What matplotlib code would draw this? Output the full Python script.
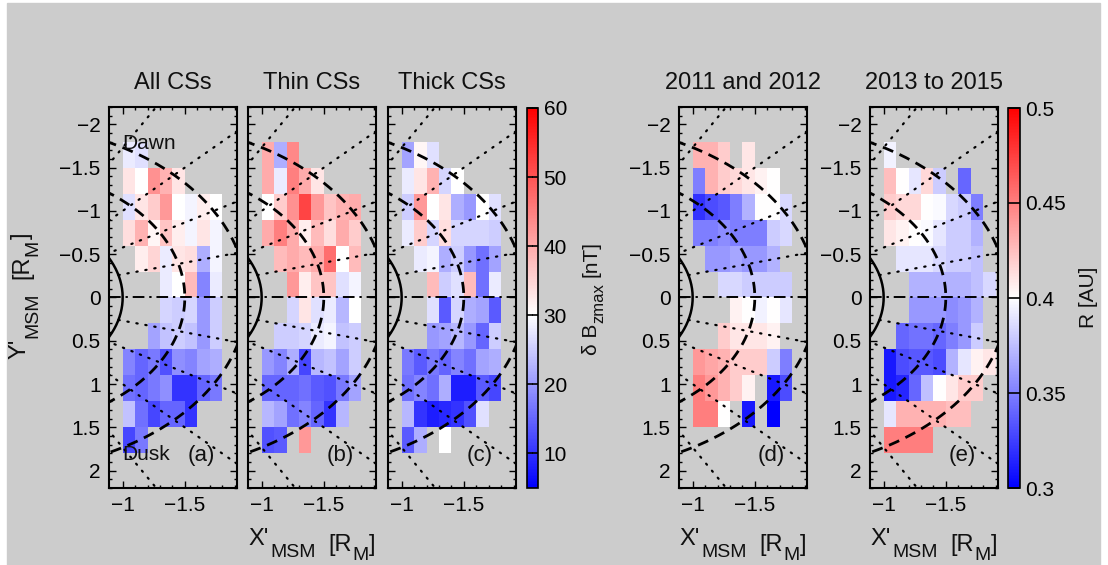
import numpy as np
import matplotlib.pyplot as plt
from matplotlib.colors import LinearSegmentedColormap, Normalize
from matplotlib.patches import Rectangle

plt.rcParams['font.family'] = ['Liberation Sans', 'DejaVu Sans']
plt.rcParams['text.color'] = '#111111'

n = np.nan

# bin edges of the maps (X' columns, Y' rows)
x_edges = [-1.0, -1.1, -1.2, -1.3, -1.4, -1.5, -1.6, -1.7, -1.8, -1.9]
y_edges = [-1.8, -1.5, -1.2, -0.9, -0.6, -0.3, 0.0, 0.3, 0.6, 0.9, 1.2, 1.5, 1.8]

# delta Bz max [nT]
dbz_all = [
    [28, 27, n, n, n, n, n, n, n],
    [33, 30, 43, 39, 33, n, n, n, n],
    [27, 33, 36, 42, 30, 29, 32, 30, n],
    [34, 39, 31, 37, 32, 29, 33, 29, n],
    [n, 32, 35, 28, 33, 34, 22, 29, n],
    [n, n, n, 28, 30, 38, 18, 28, n],
    [n, n, n, 26, 25, 26, 20, 25, n],
    [n, n, 21, 24, 25, 24, 20, 25, n],
    [18, 15, 17, 13, 19, 18, 21, 22, n],
    [16, 15, 17, 19, 10, 10, 15, 17, n],
    [24, 16, 12, 15, 15, 10, n, n, n],
    [12, 17, n, n, n, n, n, n, n],
]
dbz_thin = [
    [40, 22, 44, n, n, n, n, n, n],
    [40, 28, 45, 40, 33, n, n, n, n],
    [30, 36, 43, 52, 42, 37, 39, 40, n],
    [40, 45, 40, 32, 38, 34, 40, 36, n],
    [n, 38, 40, 38, 40, 47, 30, 38, n],
    [n, n, 42, 32, 37, 37, 27, 29, n],
    [n, n, 26, 33, 27, 28, 23, 30, n],
    [n, 25, 25, 26, 28, 29, 24, 25, n],
    [20, 18, 22, 12, 23, 24, 21, 25, n],
    [15, 15, 15, 16, 14, 13, 17, 21, n],
    [23, 21, 16, 18, 15, 10, 23, n, n],
    [13, 14, n, 42, n, n, n, n, n],
]
dbz_thick = [
    [21, 31, 27, n, n, n, n, n, n],
    [28, 33, 39, 26, 30, n, n, n, n],
    [25, 42, 30, 33, 22, 20, 30, 27, n],
    [28, 36, 26, 34, 26, 26, 26, 25, n],
    [n, 28, 29, 22, 25, 20, 16, 21, n],
    [n, n, 38, 25, 27, 38, 16, 28, n],
    [n, n, 27, 14, 26, 22, 21, 14, n],
    [n, n, 20, 21, 23, 20, 15, 25, n],
    [17, 14, 17, 15, 18, 16, 21, 22, n],
    [16, 18, 16, 22, 8, 8, 14, 12, n],
    [23, 10, 8, 9, 10, 13, 27, n, n],
    [14, 22, n, 30, n, n, n, n, n],
]

# heliocentric distance R [AU]
r_2011_2012 = [
    [0.43, 0.43, 0.42, n, 0.41, n, n, n, n],
    [0.35, 0.43, 0.42, 0.415, 0.41, 0.405, 0.40, n, n],
    [0.32, 0.33, 0.335, 0.35, 0.37, 0.40, 0.40, 0.385, n],
    [0.35, 0.35, 0.355, 0.35, 0.35, 0.35, 0.38, 0.385, n],
    [n, 0.36, 0.36, 0.365, 0.36, 0.36, 0.37, n, n],
    [n, n, 0.385, 0.385, 0.38, 0.38, 0.38, 0.38, n],
    [n, n, n, 0.405, 0.40, 0.395, 0.40, 0.39, n],
    [n, n, 0.42, 0.41, 0.41, 0.41, 0.405, n, n],
    [0.44, 0.435, 0.43, 0.42, 0.42, 0.42, 0.38, 0.35, n],
    [0.45, 0.44, 0.43, 0.42, 0.405, n, 0.31, 0.33, n],
    [0.45, 0.45, 0.40, n, 0.31, n, 0.30, n, n],
    [n, n, n, n, n, n, n, n, n],
]
r_2013_2015 = [
    [0.395, n, n, n, n, n, n, n, n],
    [0.425, 0.40, 0.39, 0.415, 0.38, n, 0.34, n, n],
    [0.42, 0.415, 0.415, 0.40, 0.398, 0.385, 0.38, 0.35, n],
    [0.41, 0.405, 0.40, 0.398, 0.39, 0.38, 0.38, 0.37, n],
    [n, 0.39, 0.39, 0.39, 0.385, 0.38, 0.38, 0.375, n],
    [n, n, 0.37, 0.37, 0.37, 0.37, 0.37, 0.375, 0.385],
    [n, n, 0.36, 0.36, 0.36, 0.355, 0.36, 0.37, n],
    [n, 0.34, 0.345, 0.345, 0.34, 0.35, 0.36, 0.38, n],
    [0.31, 0.33, 0.335, 0.335, 0.33, 0.37, 0.39, 0.405, 0.41],
    [0.31, 0.315, 0.34, 0.375, 0.40, 0.41, 0.42, 0.42, n],
    [0.39, 0.43, 0.43, 0.43, 0.43, 0.425, 0.425, n, n],
    [0.45, 0.45, 0.45, 0.45, n, n, n, n, n],
]

titles = ['All CSs', 'Thin CSs', 'Thick CSs', '2011 and 2012', '2013 to 2015']
panel_tags = ['(a)', '(b)', '(c)', '(d)', '(e)']
xtick_vals = [-1, -1.5]
xtick_labels = ['\u22121', '\u22121.5']
ytick_vals = [-2, -1.5, -1, -0.5, 0, 0.5, 1, 1.5, 2]
ytick_labels = ['\u22122', '\u22121.5', '\u22121', '\u22120.5', '0', '0.5', '1', '1.5', '2']
dbz_ticks = [10, 20, 30, 40, 50, 60]
r_ticks = [0.3, 0.35, 0.4, 0.45, 0.5]
r_tick_labels = ['0.3', '0.35', '0.4', '0.45', '0.5']

# colour maps: blue-white-red, white at 30 nT / 0.4 AU
cmap_dbz = LinearSegmentedColormap.from_list('dbz', [(0, 'blue'), (25 / 55, 'white'), (1, 'red')])
norm_dbz = Normalize(5, 60)
cmap_r = plt.get_cmap('bwr')
norm_r = Normalize(0.3, 0.5)

W, H = 1108, 565
fig = plt.figure(figsize=(W / 100, H / 100), dpi=100)
fig.patches.append(Rectangle((7 / W, 0), (1100 - 7) / W, (H - 3) / H,
                             transform=fig.transFigure, color='#cccccc', zorder=-10))


def px_axes(left, top, width, height):
    return fig.add_axes([left / W, 1 - (top + height) / H, width / W, height / H])


def chain_label(a, b, pieces, rotation=0):
    # pieces: (text, fontsize, baseline shift px, gap before px)
    # horizontal: a = centre x, b = baseline y ; vertical: a = baseline x, b = centre y
    rend = fig.canvas.get_renderer()
    items = []
    total = 0
    for s, fs, dy, gap in pieces:
        t = fig.text(0, 0, s, fontsize=fs, rotation=rotation, rotation_mode='anchor',
                     ha='left', va='baseline')
        bb = t.get_window_extent(rend)
        ln = bb.width if rotation == 0 else bb.height
        items.append((t, dy, gap, ln))
        total += gap + ln
    pos = -total / 2
    for t, dy, gap, ln in items:
        pos += gap
        if rotation == 0:
            t.set_position(((a + pos) / W, 1 - (b + dy) / H))
        else:
            t.set_position(((a + dy) / W, 1 - (b - pos) / H))
        pos += ln


panel_left = [109, 248, 388, 679, 870]
panel_data = [dbz_all, dbz_thin, dbz_thick, r_2011_2012, r_2013_2015]

t = np.linspace(-np.pi / 2, np.pi / 2, 200)
meshes = []
for i, left in enumerate(panel_left):
    ax = px_axes(left, 107, 128, 381)
    ax.set_facecolor('none')
    if i < 3:
        cmap, norm = cmap_dbz, norm_dbz
    else:
        cmap, norm = cmap_r, norm_r
    m = ax.pcolormesh(x_edges, y_edges, np.ma.masked_invalid(np.array(panel_data[i], dtype=float)),
                      cmap=cmap, norm=norm, edgecolors='none', zorder=1)
    meshes.append(m)

    # planet, boundaries and local-time lines
    ax.plot(-np.cos(t), np.sin(t), color='k', lw=1.8, zorder=3)
    for rad in [1.5, 2.0]:
        ax.plot(-rad * np.cos(t), rad * np.sin(t), color='k', lw=2.0,
                dashes=(4, 2.5), zorder=3)
    for ang in [15, 30, 45, 60]:
        for sgn in [-1, 1]:
            a = np.deg2rad(ang) * sgn
            ax.plot([-np.cos(a), -3 * np.cos(a)], [np.sin(a), 3 * np.sin(a)],
                    color='k', lw=1.6, linestyle=(0, (0.6, 3.5)),
                    dash_capstyle='round', zorder=3)
    ax.axhline(0, color='k', lw=1.4, linestyle=(0, (6, 2.5, 1.2, 2.5)), zorder=3)

    ax.set_xlim(-0.89, -1.92)
    ax.set_ylim(2.2, -2.2)
    ax.set_xticks(xtick_vals)
    ax.set_xticklabels(xtick_labels)
    ax.set_xticks(np.arange(-1.0, -1.95, -0.1), minor=True)
    ax.set_yticks(ytick_vals)
    ax.set_yticklabels(ytick_labels)
    ax.set_yticks(np.arange(-2.2, 2.25, 0.1), minor=True)
    ax.tick_params(which='both', direction='in', top=True, right=True, width=1.0,
                   labelsize=15, pad=6)
    ax.tick_params(which='major', length=5)
    ax.tick_params(which='minor', length=2.5)
    if i in (1, 2):
        ax.tick_params(labelleft=False)
    for s in ax.spines.values():
        s.set_linewidth(1.5)

    ax.set_title(titles[i], fontsize=17, pad=13)
    ax.text(-1.63, 1.82, panel_tags[i], fontsize=16, ha='center', va='center', zorder=4)
    if i == 0:
        ax.text(-1.0, -1.78, 'Dawn', fontsize=15, ha='left', va='center', zorder=4)
        ax.text(-1.0, 1.81, 'Dusk', fontsize=15, ha='left', va='center', zorder=4)

# colour bars
cax1 = px_axes(527, 108, 11, 380)
cb1 = fig.colorbar(meshes[0], cax=cax1)
cb1.set_ticks(dbz_ticks)
cax2 = px_axes(1008, 108, 12, 380)
cb2 = fig.colorbar(meshes[3], cax=cax2)
cb2.set_ticks(r_ticks)
cb2.set_ticklabels(r_tick_labels)
for cb in (cb1, cb2):
    cb.outline.set_linewidth(1.2)
    cb.ax.tick_params(direction='in', left=True, right=True, length=4, width=1.2,
                      labelsize=15, pad=4)

# axis labels
xlab = [("X'", 17, 0, 0), ("MSM", 14, 12, 1), ("[R", 17, 6, 13), ("M", 14, 15, 0), ("]", 17, 6, 0)]
for xc in [312, 743, 934]:
    chain_label(xc, 545, xlab)
ylab = [("Y'", 17, 0, 0), ("MSM", 14, 12, 1), ("[R", 17, 3, 13), ("M", 14, 12, 0), ("]", 17, 3, 0)]
chain_label(25, 296, ylab, rotation=90)
chain_label(597, 298, [("\u03b4 B", 15, 0, 0), ("zmax", 12, 6, 1), ("[nT]", 15, 0, 6)], rotation=90)
fig.text(1088 / W, 1 - 297 / H, 'R [AU]', fontsize=15, ha='center', va='center', rotation=90)

fig.savefig('out.png', dpi=100)
